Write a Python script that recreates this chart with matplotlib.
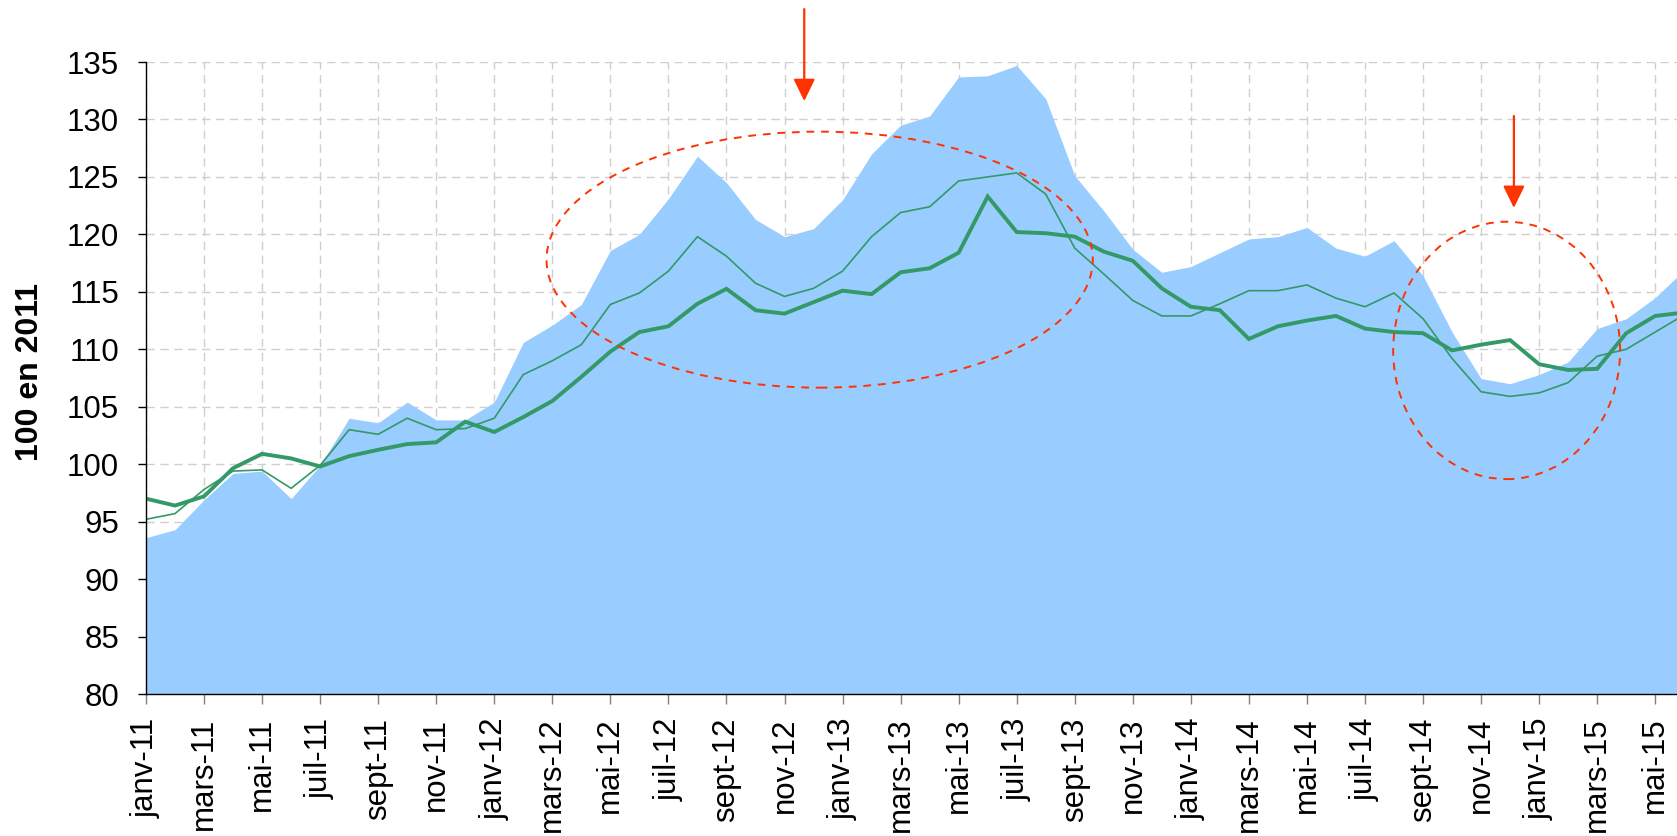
import matplotlib
matplotlib.use("Agg")
import matplotlib.pyplot as plt
from matplotlib.patches import Ellipse

plt.rcParams['font.family'] = ['Liberation Sans', 'DejaVu Sans']

# ---- data (monthly, janv-11 .. juin-15) ----
month_names = ["janv", "févr", "mars", "avr", "mai", "juin",
               "juil", "août", "sept", "oct", "nov", "déc"]
start_year = 11

area_values = [93.6, 94.3, 96.9, 99.2, 99.4, 97.0, 99.9, 104.0, 103.6, 105.4,
               103.85, 103.85, 105.4, 110.6, 112.1, 113.9, 118.6, 120.0, 123.1, 126.8,
               124.5, 121.3, 119.8, 120.5, 123.0, 127.0, 129.5, 130.3, 133.7, 133.8,
               134.7, 131.8, 125.1, 122.05, 118.7, 116.7, 117.2, 118.4, 119.6, 119.8,
               120.6, 118.8, 118.1, 119.45, 116.4, 111.5, 107.45, 107.0, 107.8, 108.9,
               111.8, 112.66, 114.5, 116.9]

thin_values = [95.2, 95.7, 97.8, 99.4, 99.5, 97.9, 99.9, 103.0, 102.6, 104.0,
               103.0, 103.1, 104.0, 107.8, 109.0, 110.4, 113.9, 114.9, 116.8, 119.8,
               118.1, 115.75, 114.6, 115.3, 116.8, 119.8, 121.9, 122.4, 124.65, 125.0,
               125.35, 123.5, 118.8, 116.55, 114.25, 112.9, 112.9, 113.96, 115.1, 115.1,
               115.6, 114.45, 113.7, 114.9, 112.66, 109.2, 106.3, 105.9, 106.2, 107.1,
               109.4, 110.0, 111.5, 113.0]

thick_values = [97.0, 96.4, 97.2, 99.65, 100.9, 100.5, 99.8, 100.7, 101.25, 101.75,
                101.9, 103.7, 102.8, 104.1, 105.5, 107.6, 109.8, 111.5, 112.0, 113.96,
                115.26, 113.4, 113.1, 114.1, 115.1, 114.8, 116.7, 117.05, 118.4, 123.3,
                120.2, 120.1, 119.8, 118.5, 117.7, 115.3, 113.7, 113.4, 110.9, 112.0,
                112.5, 112.9, 111.8, 111.5, 111.4, 109.9, 110.4, 110.8, 108.7, 108.2,
                108.3, 111.4, 112.9, 113.2]

n = len(area_values)
x = list(range(n))
labels = [f"{month_names[i % 12]}-{start_year + i // 12}" for i in range(n)]
tick_pos = list(range(0, n, 2))
tick_labels = [labels[i] for i in tick_pos]

y_ticks = [80, 85, 90, 95, 100, 105, 110, 115, 120, 125, 130, 135]

# ---- figure ----
W, H = 1677, 836
fig = plt.figure(figsize=(W / 100, H / 100), dpi=100)
left, right, top, bottom = 146.0, 1677, 62, 694
ax = fig.add_axes([left / W, 1 - bottom / H, (right - left) / W, (bottom - top) / H])

ax.set_xlim(0, 52.75)
ax.set_ylim(80, 135)

grid_kw = dict(color='#CFCFCF', linewidth=1.0, linestyle=(0, (6, 4)))
ax.set_axisbelow(True)
ax.grid(True, axis='both', **grid_kw)

ax.fill_between(x, 80, area_values, color='#99CCFF', linewidth=0, zorder=2)
ax.plot(x, thin_values, color='#339966', linewidth=1.2, zorder=3)
ax.plot(x, thick_values, color='#339966', linewidth=2.8, zorder=4, solid_joinstyle='miter')

red = '#FF3300'
ax.add_patch(Ellipse((23.21, 117.8), 18.82, 22.28, fill=False, edgecolor=red,
                     linewidth=1.4, linestyle=(0, (4, 3.5)), zorder=5, clip_on=False))
ax.add_patch(Ellipse((46.88, 109.9), 7.82, 22.4, fill=False, edgecolor=red,
                     linewidth=1.4, linestyle=(0, (4, 3.5)), zorder=5, clip_on=False))

arrow_kw = dict(arrowstyle='-|>,head_length=0.45,head_width=0.22', color=red, lw=1.6,
                mutation_scale=30, shrinkA=0, shrinkB=0)
ax.annotate('', xy=(22.68, 131.6), xytext=(22.68, 139.6), arrowprops=arrow_kw,
            annotation_clip=False, zorder=6)
ax.annotate('', xy=(47.13, 122.3), xytext=(47.13, 130.3), arrowprops=arrow_kw,
            annotation_clip=False, zorder=6)

ax.set_yticks(y_ticks)
ax.set_yticklabels([str(v) for v in y_ticks], fontsize=22.5)
ax.set_xticks(tick_pos)
ax.set_xticklabels(tick_labels, rotation=90, fontsize=22.5, va='top', ha='center')

ax.tick_params(axis='y', direction='out', length=6, width=1, color='black', pad=13.5)
ax.tick_params(axis='x', direction='out', length=7, width=1, color='#808080', pad=10)

for s in ['top', 'right']:
    ax.spines[s].set_visible(False)
ax.spines['left'].set_color('black')
ax.spines['bottom'].set_color('black')
ax.spines['left'].set_linewidth(1.0)
ax.spines['bottom'].set_linewidth(1.0)
ax.spines['left'].set_zorder(7)
ax.spines['bottom'].set_zorder(7)

fig.text(30 / W, 1 - 372 / H, '100 en 2011', rotation=90, va='center', ha='center',
         fontsize=23, fontweight='bold')

fig.savefig('out.png', dpi=100)
